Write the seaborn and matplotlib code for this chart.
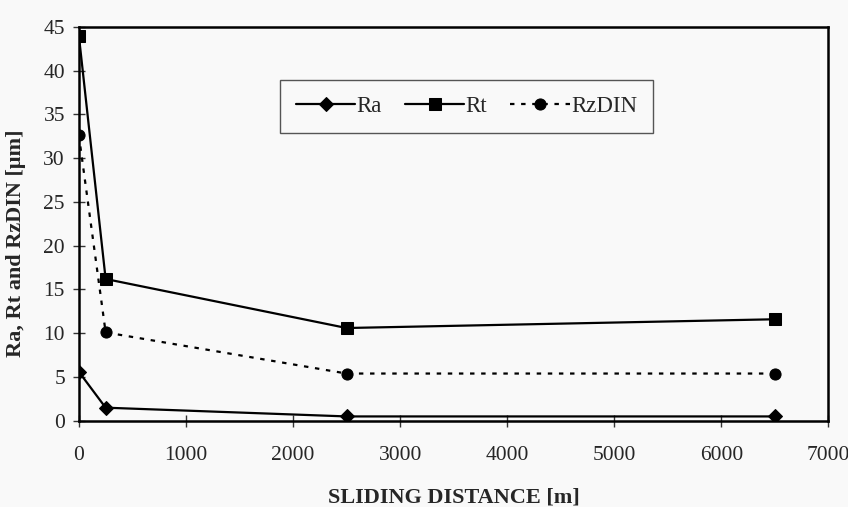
import matplotlib
matplotlib.use("Agg")
from matplotlib import pyplot as plt
import seaborn as sns
import pandas as pd

distance = [0, 250, 2500, 6500]
ra = [5.6, 1.5, 0.5, 0.5]
rt = [44.0, 16.2, 10.6, 11.6]
rzdin = [32.6, 10.1, 5.4, 5.4]

sns.set_style("ticks")
plt.rcParams['font.family'] = ['Liberation Serif', 'DejaVu Serif']

df = pd.DataFrame({'distance': distance * 3,
                   'value': ra + rt + rzdin,
                   'series': ['Ra'] * 4 + ['Rt'] * 4 + ['RzDIN'] * 4})

bg = '#f9f9f9'
fig, ax = plt.subplots(figsize=(8.48, 5.07), dpi=100)
fig.patch.set_facecolor(bg)
ax.set_facecolor(bg)

sns.lineplot(data=df, x='distance', y='value', hue='series', style='series',
             palette=['black'] * 3, markers={'Ra': 'D', 'Rt': 's', 'RzDIN': 'o'},
             dashes={'Ra': '', 'Rt': '', 'RzDIN': (2, 3)},
             markersize=8, linewidth=1.6, markeredgecolor='black', ax=ax)
for line in ax.lines:
    if line.get_marker() == 'D':
        line.set_markersize(7)

ax.set_xlim(0, 7000)
ax.set_ylim(0, 45)
ax.set_xticks(range(0, 7001, 1000))
ax.set_yticks(range(0, 46, 5))
ax.tick_params(axis='both', direction='inout', length=8, width=1, labelsize=15.5, color='#333333', pad=6)
ax.tick_params(axis='x', pad=14)
for s in ax.spines.values():
    s.set_linewidth(1.8)
    s.set_color('black')

ax.set_xlabel('SLIDING DISTANCE [m]', fontsize=16, fontweight='bold', labelpad=16)
ax.set_ylabel('Ra, Rt and RzDIN [μm]', fontsize=16, fontweight='bold')
ax.yaxis.set_label_coords(-0.071, 0.45)

leg = ax.legend(loc='center', bbox_to_anchor=(0.517, 0.797), ncol=3, fontsize=16.5,
                frameon=True, fancybox=False, handlelength=2.6, handletextpad=0.05,
                columnspacing=1.0, borderpad=0.7, title=None)
leg.get_frame().set_edgecolor('#555555')
leg.get_frame().set_facecolor(bg)
leg.get_frame().set_linewidth(1.0)
leg.get_frame().set_alpha(1)

fig.subplots_adjust(left=0.093, right=0.977, top=0.947, bottom=0.17)
fig.savefig('out.png', dpi=100, facecolor=bg)
